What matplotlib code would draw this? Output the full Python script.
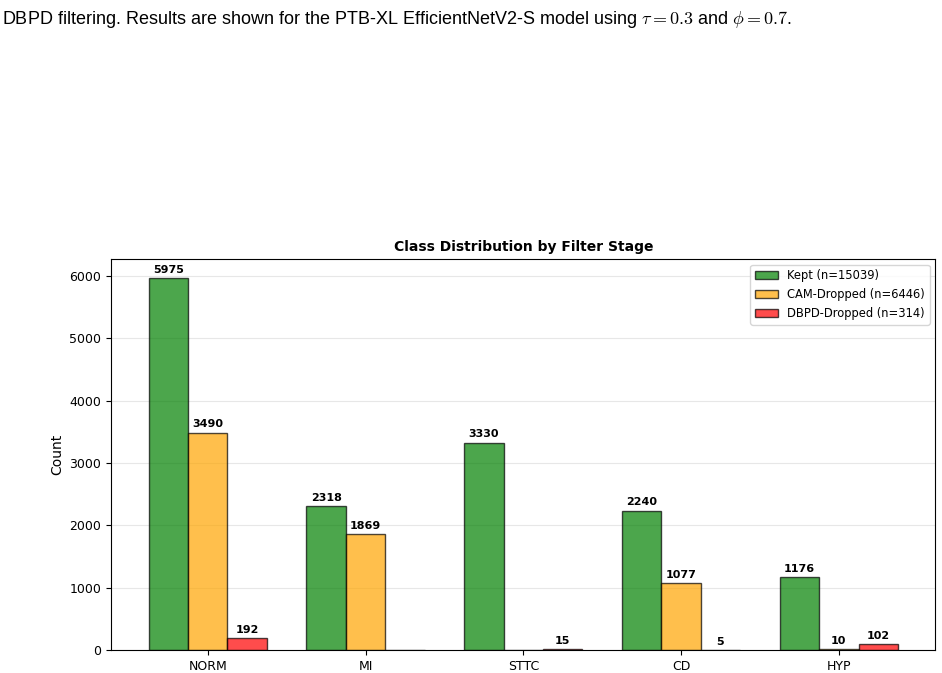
import matplotlib
matplotlib.use("Agg")
import matplotlib.pyplot as plt
import numpy as np

categories = ["NORM", "MI", "STTC", "CD", "HYP"]
kept = [5975, 2318, 3330, 2240, 1176]
cam_dropped = [3490, 1869, 0, 1077, 10]
dbpd_dropped = [192, 0, 15, 5, 102]
series_labels = ["Kept (n=15039)", "CAM-Dropped (n=6446)", "DBPD-Dropped (n=314)"]
series_colors = ["green", "orange", "red"]

plt.rcParams["mathtext.fontset"] = "cm"

fig = plt.figure(figsize=(9.42, 6.73), dpi=100)
fig.text(0.002, 0.986,
         r"DBPD filtering. Results are shown for the PTB-XL EfficientNetV2-S model using $\tau = 0.3$ and $\phi = 0.7$.",
         fontsize=13, ha="left", va="top", family="Liberation Sans")

ax = fig.add_axes([0.118, 0.034, 0.875, 0.581])
x = np.arange(len(categories))
w = 0.25
for i, (vals, lab, col) in enumerate(zip([kept, cam_dropped, dbpd_dropped], series_labels, series_colors)):
    bars = ax.bar(x + (i - 1) * w, vals, w, label=lab, color=col, alpha=0.7, edgecolor="black")
    for b, v in zip(bars, vals):
        if v > 0:
            ax.text(b.get_x() + b.get_width() / 2, v + 50, str(v), ha="center", va="bottom",
                    fontsize=8, fontweight="bold")

ax.set_xticks(x)
ax.set_xticklabels(categories)
ax.set_ylabel("Count")
ax.set_ylim(0, 5975 * 1.05)
ax.set_title("Class Distribution by Filter Stage", fontsize=10, fontweight="bold")
ax.legend(loc="upper right", fontsize=8.3)
ax.grid(axis="y", alpha=0.3)
ax.set_axisbelow(True)
ax.tick_params(labelsize=9)

fig.savefig("out.png", dpi=100)
